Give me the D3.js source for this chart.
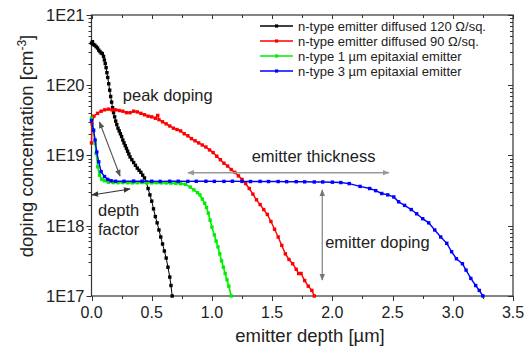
<!DOCTYPE html>
<html><head><meta charset="utf-8">
<script src="https://cdn.jsdelivr.net/npm/d3@7"></script>
<style>
html,body{margin:0;padding:0;background:#fff;}
svg{display:block;font-family:"Liberation Sans",Arial,sans-serif;}
</style></head>
<body><svg id="chart" width="529" height="349"></svg>
<script>
// ---- data (depth in µm, concentration in cm^-3) ----
const seriesNames = ["n-type emitter diffused 120 \u03A9/sq.","n-type emitter diffused 90 \u03A9/sq.","n-type 1 \u00B5m epitaxial emitter","n-type 3 \u00B5m epitaxial emitter"];
const seriesColors = ["#000000","#ff0000","#00ee00","#0000ff"];

const blackDepth = [0,0.008,0.017,0.027,0.038,0.05,0.06,0.07,0.08,0.09,0.1,0.107,0.114,0.121,0.128,0.135,0.143,0.151,0.159,0.167,0.175,0.183,0.192,0.201,0.21,0.22,0.23,0.24,0.25,0.26,0.27,0.28,0.29,0.30,0.31,0.32,0.335,0.35,0.365,0.38,0.395,0.41,0.425,0.44,0.455,0.47,0.485,0.5,0.515,0.53,0.545,0.56,0.575,0.59,0.605,0.62,0.635,0.65,0.66,0.67];
const blackConc = [3.98e20,4.17e20,3.80e20,3.72e20,3.55e20,3.39e20,3.16e20,3.02e20,2.88e20,2.82e20,2.57e20,2.29e20,2.04e20,1.78e20,1.51e20,1.29e20,1.05e20,8.51e19,6.92e19,5.75e19,4.79e19,4.07e19,3.55e19,3.09e19,2.75e19,2.45e19,2.24e19,2.04e19,1.86e19,1.66e19,1.51e19,1.38e19,1.26e19,1.15e19,1.05e19,9.55e18,8.71e18,7.94e18,7.24e18,6.61e18,6.17e18,5.75e18,5.25e18,4.79e18,4.17e18,3.39e18,2.75e18,2.24e18,1.74e18,1.35e18,1.10e18,8.71e17,6.92e17,5.50e17,4.37e17,3.47e17,2.57e17,1.86e17,1.41e17,1.00e17];

const redDepth = [0,0.005,0.02,0.05,0.08,0.11,0.14,0.17,0.2,0.23,0.26,0.29,0.32,0.35,0.38,0.41,0.44,0.47,0.5,0.53,0.55,0.56,0.59,0.62,0.65,0.68,0.71,0.74,0.77,0.8,0.83,0.86,0.89,0.92,0.95,0.98,1.01,1.04,1.07,1.1,1.13,1.16,1.19,1.22,1.25,1.28,1.31,1.34,1.37,1.4,1.43,1.46,1.49,1.52,1.55,1.58,1.61,1.64,1.67,1.7,1.72,1.74,1.77,1.8,1.83,1.85];
const redConc = [1.51e19,2.82e19,3.63e19,3.98e19,4.27e19,4.47e19,4.57e19,4.47e19,4.47e19,4.37e19,4.27e19,4.07e19,4.07e19,4.27e19,4.17e19,3.98e19,3.80e19,3.63e19,3.55e19,3.39e19,3.72e19,3.24e19,3.02e19,2.82e19,2.63e19,2.45e19,2.34e19,2.24e19,2.04e19,1.91e19,1.74e19,1.62e19,1.51e19,1.41e19,1.32e19,1.20e19,1.10e19,9.77e18,8.71e18,7.76e18,7.08e18,6.31e18,5.75e18,5.13e18,4.57e18,3.98e18,3.39e18,2.82e18,2.34e18,2.00e18,1.70e18,1.45e18,1.15e18,8.91e17,6.92e17,5.25e17,3.98e17,3.31e17,2.88e17,2.40e17,2.09e17,2.09e17,1.66e17,1.38e17,1.20e17,1.00e17];

const greenDepth = [0,0.017,0.03,0.039,0.052,0.066,0.086,0.108,0.14,0.18,0.22,0.26,0.3,0.34,0.38,0.42,0.46,0.5,0.54,0.58,0.62,0.66,0.7,0.74,0.78,0.82,0.85,0.88,0.9,0.92,0.94,0.955,0.97,0.985,1.0,1.02,1.035,1.05,1.065,1.08,1.095,1.11,1.125,1.14,1.16];
const greenConc = [3.39e19,2.29e19,1.48e19,1.07e19,6.92e18,5.25e18,4.57e18,4.37e18,4.17e18,4.12e18,4.10e18,4.12e18,4.10e18,4.08e18,4.10e18,4.12e18,4.10e18,4.08e18,4.10e18,4.08e18,4.07e18,4.05e18,4.02e18,3.98e18,3.89e18,3.55e18,3.24e18,2.95e18,2.75e18,2.40e18,2.09e18,1.82e18,1.51e18,1.20e18,9.55e17,7.41e17,6.03e17,5.01e17,3.98e17,3.16e17,2.57e17,2.09e17,1.70e17,1.38e17,1.00e17];

const blueDepth = [0,0.017,0.03,0.044,0.06,0.08,0.108,0.135,0.163,0.2,0.27,0.35,0.42,0.5,0.57,0.65,0.72,0.8,0.87,0.95,1.02,1.1,1.17,1.25,1.32,1.4,1.47,1.55,1.62,1.7,1.77,1.85,1.92,2.0,2.07,2.14,2.23,2.31,2.36,2.41,2.46,2.51,2.55,2.6,2.655,2.7,2.75,2.8,2.85,2.9,2.95,2.99,3.03,3.08,3.11,3.15,3.19,3.22,3.25];
const blueConc = [3.16e19,2.29e19,1.66e19,1.12e19,8.13e18,5.89e18,5.01e18,4.57e18,4.37e18,4.30e18,4.30e18,4.32e18,4.30e18,4.30e18,4.28e18,4.30e18,4.30e18,4.28e18,4.30e18,4.30e18,4.28e18,4.28e18,4.30e18,4.28e18,4.26e18,4.28e18,4.26e18,4.26e18,4.24e18,4.24e18,4.22e18,4.20e18,4.20e18,4.17e18,4.12e18,3.98e18,3.63e18,3.39e18,3.16e18,2.88e18,2.75e18,2.57e18,2.19e18,1.95e18,1.70e18,1.48e18,1.26e18,1.10e18,8.71e17,6.92e17,5.62e17,4.27e17,3.39e17,2.88e17,2.34e17,1.78e17,1.41e17,1.20e17,1.00e17];

const xTicks = [0,0.5,1.0,1.5,2.0,2.5,3.0,3.5];
const xTickLabels = ["0.0","0.5","1.0","1.5","2.0","2.5","3.0","3.5"];
const yTicks = [1e17,1e18,1e19,1e20,1e21];
const yTickLabels = ["1E17","1E18","1E19","1E20","1E21"];

// annotations: [depth, conc] anchors
const annotTexts = [
  {t:"peak doping", d:0.26, c:5.97e19},
  {t:"depth", d:0.054, c:1.38e18},
  {t:"factor", d:0.054, c:7.4e17},
  {t:"emitter thickness", d:1.33, c:8.1e18},
  {t:"emitter doping", d:1.94, c:4.9e17}
];
const annotArrows = [
  {d1:0.066, c1:3.0e19, d2:0.237, c2:5.1e18, col:"#555"},
  {d1:0.004, c1:2.74e18, d2:0.32, c2:3.34e18, col:"#333"},
  {d1:0.80, c1:5.69e18, d2:2.47, c2:5.69e18, col:"#999"},
  {d1:1.916, c1:3.23e18, d2:1.916, c2:1.69e17, col:"#777"}
];

// ---- drawing ----
const svg = d3.select("#chart");
const L = 91.5, R = 513, T = 15, B = 296;
const x = d3.scaleLinear().domain([0,3.5]).range([L,R]);
const y = d3.scaleLog().domain([1e17,1e21]).range([B,T]);

const defs = svg.append("defs");
["#555","#333","#999","#777"].forEach((c,i)=>{
  defs.append("marker").attr("id","ah"+i).attr("viewBox","0 0 10 10")
    .attr("refX",9).attr("refY",5).attr("markerWidth",7).attr("markerHeight",7)
    .attr("orient","auto-start-reverse").attr("markerUnits","userSpaceOnUse")
    .append("path").attr("d","M0,1 L10,5 L0,9 Z").attr("fill",c);
});

// minor/major ticks
const xMinor = d3.range(0,3.5001,0.25);
const yMinor = [];
for (let e=17;e<21;e++) for (let m=2;m<=9;m++) yMinor.push(m*Math.pow(10,e));
const tg = svg.append("g").attr("stroke","#333").attr("stroke-width",1);
xMinor.forEach(v=>{
  const px = Math.round(x(v))+0.5;
  const major = Math.abs(v*2-Math.round(v*2))<1e-6;
  tg.append("line").attr("x1",px).attr("x2",px).attr("y1",B).attr("y2",B+(major?5:3));
  tg.append("line").attr("x1",px).attr("x2",px).attr("y1",T).attr("y2",T+(major?4:3));
});
yTicks.forEach(v=>{
  const py = Math.round(y(v))+0.5;
  tg.append("line").attr("x1",L-5).attr("x2",L).attr("y1",py).attr("y2",py);
  tg.append("line").attr("x1",R).attr("x2",R-5).attr("y1",py).attr("y2",py);
});
yMinor.forEach(v=>{
  const py = Math.round(y(v))+0.5;
  tg.append("line").attr("x1",L-3).attr("x2",L).attr("y1",py).attr("y2",py);
  tg.append("line").attr("x1",R).attr("x2",R-3).attr("y1",py).attr("y2",py);
});

// frame
svg.append("rect").attr("x",L).attr("y",T).attr("width",R-L).attr("height",B-T)
  .attr("fill","none").attr("stroke","#333").attr("stroke-width",1.2);

// tick labels
svg.append("g").selectAll("text").data(xTicks).join("text")
  .attr("x",d=>x(d)).attr("y",B+22).attr("text-anchor","middle")
  .attr("font-size",16).attr("fill","#222").text((d,i)=>xTickLabels[i]);
svg.append("g").selectAll("text").data(yTicks).join("text")
  .attr("x",L-7).attr("y",d=>y(d)).attr("dy","0.36em").attr("text-anchor","end")
  .attr("font-size",16.5).attr("fill","#222").text((d,i)=>yTickLabels[i]);

// axis titles
svg.append("text").attr("x",310).attr("y",342).attr("text-anchor","middle")
  .attr("font-size",18.5).attr("fill","#222").text("emitter depth [\u00B5m]");
const yt = svg.append("text").attr("transform","translate(33,146) rotate(-90)")
  .attr("text-anchor","middle").attr("font-size",18.5).attr("fill","#222");
yt.append("tspan").text("doping concentration [cm");
yt.append("tspan").attr("dy",-7).attr("font-size",12).text("-3");
yt.append("tspan").attr("dy",7).text("]");

// series
const series = [
  {d:blackDepth,c:blackConc,w:1},
  {d:redDepth,c:redConc,w:1.4},
  {d:greenDepth,c:greenConc,w:1.6},
  {d:blueDepth,c:blueConc,w:1.4}
];
const line = d3.line().x(p=>x(p[0])).y(p=>y(p[1]));
series.forEach((s,i)=>{
  const pts = s.d.map((v,j)=>[v,s.c[j]]);
  svg.append("path").datum(pts).attr("d",line).attr("fill","none")
    .attr("stroke",seriesColors[i]).attr("stroke-width",s.w);
  svg.append("g").selectAll("rect").data(pts).join("rect")
    .attr("x",p=>x(p[0])-1.7).attr("y",p=>y(p[1])-1.7).attr("width",3.4).attr("height",3.4)
    .attr("fill",seriesColors[i]);
});

// annotations
annotArrows.forEach((a,i)=>{
  svg.append("line").attr("x1",x(a.d1)).attr("y1",y(a.c1)).attr("x2",x(a.d2)).attr("y2",y(a.c2))
    .attr("stroke",a.col).attr("stroke-width",i===2?1.6:1.1)
    .attr("marker-start","url(#ah"+i+")").attr("marker-end","url(#ah"+i+")");
});
svg.append("g").selectAll("text").data(annotTexts).join("text")
  .attr("x",a=>x(a.d)).attr("y",a=>y(a.c)).attr("font-size",16.5).attr("fill","#222").text(a=>a.t);

// legend
const lg = svg.append("g");
const rowY = [26,41,56,71];
seriesNames.forEach((n,i)=>{
  lg.append("line").attr("x1",260).attr("x2",293).attr("y1",rowY[i]).attr("y2",rowY[i])
    .attr("stroke",seriesColors[i]).attr("stroke-width",1.3);
  lg.append("rect").attr("x",275).attr("y",rowY[i]-1.6).attr("width",3.2).attr("height",3.2).attr("fill",seriesColors[i]);
  lg.append("text").attr("x",298).attr("y",rowY[i]).attr("dy","0.35em").attr("font-size",13)
    .attr("fill","#222").text(n);
});
</script></body></html>
